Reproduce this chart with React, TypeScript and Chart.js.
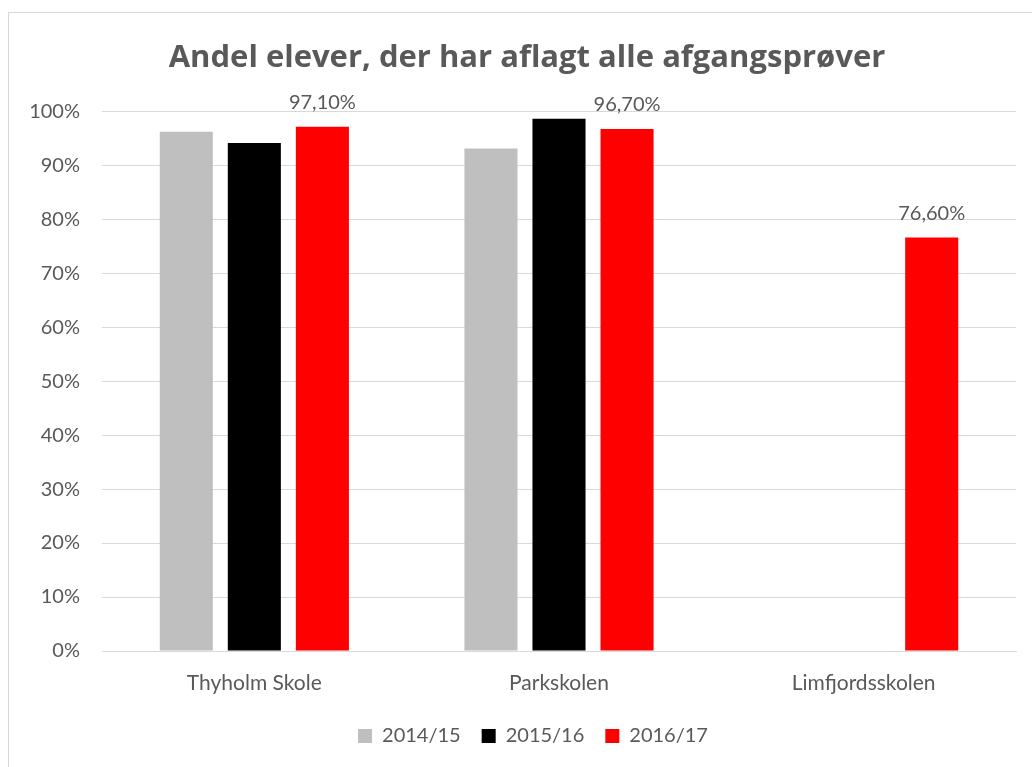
import React, { useEffect, useRef } from "react";
import { Chart, registerables } from "chart.js";

Chart.register(...registerables);

const categories = ["Thyholm Skole", "Parkskolen", "Limfjordsskolen"];
const seriesNames = ["2014/15", "2015/16", "2016/17"];
const values2014 = [96.2, 93.1, null];
const values2015 = [94.1, 98.6, null];
const values2016 = [97.1, 96.7, 76.6];
const seriesColors = ["#BFBFBF", "#000000", "#FF0000"];
const yTicks = [0, 10, 20, 30, 40, 50, 60, 70, 80, 90, 100];

const FONT = "Lato, 'Open Sans', sans-serif";
const TITLE_FONT = "'Open Sans', Lato, sans-serif";
const TEXT = "#595959";

const labelPlugin = {
  id: "lastSeriesLabels",
  afterDatasetsDraw(chart: any) {
    const ctx = chart.ctx;
    const meta = chart.getDatasetMeta(2);
    const data = chart.data.datasets[2].data;
    ctx.save();
    ctx.font = `20px ${FONT}`;
    ctx.fillStyle = TEXT;
    ctx.textAlign = "center";
    ctx.textBaseline = "bottom";
    meta.data.forEach((bar: any, i: number) => {
      const v = data[i];
      if (v == null) return;
      const txt = v.toFixed(2).replace(".", ",") + "%";
      ctx.fillText(txt, bar.x, bar.y - 14);
    });
    ctx.restore();
  },
};

const shiftBlocks = {
  id: "shiftBlocks",
  afterLayout(chart: any) {
    if (chart.titleBlock) chart.titleBlock.left = 38;
    if (chart.legend) chart.legend.left = 50;
  },
};

export default function App() {
  const ref = useRef<HTMLCanvasElement>(null);
  useEffect(() => {
    document.body.style.margin = "0";
    const vals = [values2014, values2015, values2016];
    const chart = new Chart(ref.current!, {
      type: "bar",
      data: {
        labels: categories,
        datasets: seriesNames.map((n, i) => ({
          label: n,
          data: vals[i],
          backgroundColor: seriesColors[i],
          borderWidth: 0,
          barPercentage: 0.78,
          categoryPercentage: 0.67,
        })),
      },
      options: {
        animation: false,
        responsive: false,
        maintainAspectRatio: false,
        layout: { padding: { left: 0, right: 16, top: 0, bottom: 11 } },
        plugins: {
          title: {
            display: true,
            text: "Andel elever, der har aflagt alle afgangsprøver",
            color: TEXT,
            font: { family: TITLE_FONT, size: 31, weight: "bold" },
            padding: { top: 40, bottom: 34 },
          },
          legend: {
            position: "bottom",
            labels: {
              boxWidth: 14,
              boxHeight: 14,
              color: TEXT,
              font: { family: FONT, size: 20 },
              padding: 21,
            },
          },
          tooltip: { enabled: false },
        },
        scales: {
          x: {
            afterFit: (s: any) => { s.height = 54; },
            grid: { display: false, drawTicks: false },
            border: { display: true, color: "#D9D9D9", width: 1 },
            ticks: { color: TEXT, font: { family: FONT, size: 21 }, padding: 20 },
          },
          y: {
            min: 0,
            max: 100,
            afterFit: (s: any) => { s.width = 102; },
            afterBuildTicks: (s: any) => { s.ticks = yTicks.map((v) => ({ value: v })); },
            grid: { color: "#D9D9D9", lineWidth: 1, drawTicks: false },
            border: { display: false },
            ticks: {
              color: TEXT,
              font: { family: FONT, size: 20 },
              padding: 22,
              callback: (v: any) => v + "%",
            },
          },
        },
      },
      plugins: [labelPlugin, shiftBlocks],
    });
    return () => chart.destroy();
  }, []);
  return (
    <div style={{ position: "fixed", left: 0, top: 0, width: 1032, height: 767, background: "#fff", overflow: "hidden" }}>
      <div style={{ position: "absolute", left: 8, top: 12, width: 1100, height: 900, border: "1px solid #D9D9D9", boxSizing: "border-box" }} />
      <canvas ref={ref} width={1032} height={767} style={{ position: "absolute", left: 0, top: 0 }} />
    </div>
  );
}
